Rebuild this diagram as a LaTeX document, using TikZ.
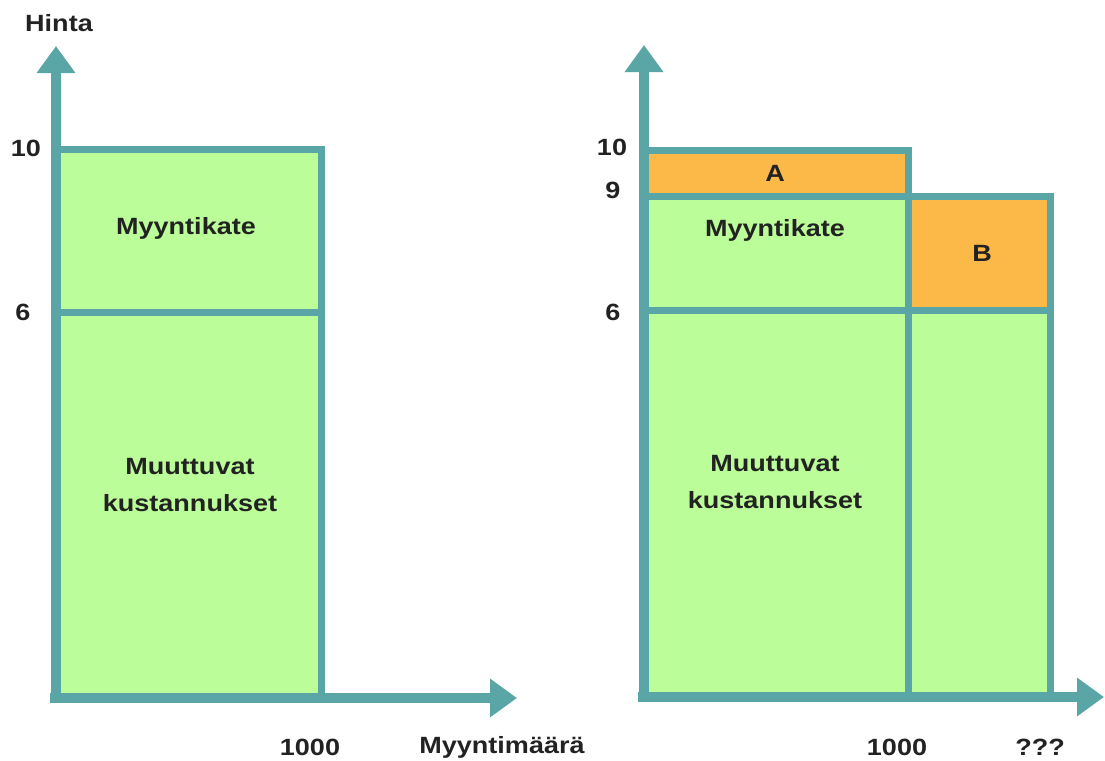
\documentclass[tikz,border=0pt]{standalone}
\usepackage{fontspec}
\setmainfont{Liberation Sans}[FakeStretch=1.15]
\usetikzlibrary{arrows.meta}
\definecolor{axiscol}{HTML}{5AA5A5}
\definecolor{greenfill}{HTML}{BBFD98}
\definecolor{orangefill}{HTML}{FDB947}
\definecolor{txt}{HTML}{222222}
\begin{document}
\begin{tikzpicture}[x=1pt,y=-1pt,
  axis/.style={draw=axiscol,line width=10pt,-{Triangle[length=27pt,width=37pt]}},
  border/.style={draw=axiscol,line width=7pt,line cap=rect},
  lbl/.style={text=txt,font=\fontsize{23.5}{28}\selectfont\bfseries,inner sep=0pt},
  area/.style={text=txt,font=\fontsize{23.5}{37}\selectfont\bfseries,align=center,inner sep=0pt}]
\useasboundingbox (0,0) rectangle (1105,760);
% ---------- left chart ----------
\fill[greenfill] (56,149) rectangle (321,698);
\draw[border] (56,149) -- (321,149) -- (321,698);
\draw[border] (56,312) -- (321,312);
\coordinate (L0) at (56,703);
\coordinate (Ltop) at (56,46);
\coordinate (Lx0) at (50,698);
\coordinate (Lright) at (517,698);
\draw[axis] (L0) -- (Ltop);
\draw[axis] (Lx0) -- (Lright);
\node[lbl] (hinta) at (59,23) {Hinta};
\node[lbl] (l10) at (26,148) {10};
\node[lbl] (l6) at (23,312) {6};
\node[lbl] (l1000) at (310,747) {1000};
\node[lbl] (lmm) at (502,747) {Myyntimäärä};
\node[area] (lmk) at (186,228) {Myyntikate};
\node[area] (lmu) at (190,485) {Muuttuvat\\kustannukset};
% ---------- right chart ----------
\fill[orangefill] (644,150) rectangle (908,196);
\fill[greenfill] (644,196) rectangle (908,697);
\fill[orangefill] (908,196) rectangle (1050,310);
\fill[greenfill] (908,310) rectangle (1050,697);
\draw[border] (644,150) -- (908,150) -- (908,697);
\draw[border] (644,196) -- (1050,196) -- (1050,697);
\draw[border] (644,310) -- (1050,310);
\coordinate (R0) at (644,702);
\coordinate (Rtop) at (644,45);
\coordinate (Rx0) at (638,697);
\coordinate (Rright) at (1104,697);
\draw[axis] (R0) -- (Rtop);
\draw[axis] (Rx0) -- (Rright);
\node[lbl] (r10) at (612,147) {10};
\node[lbl] (r9) at (613,190) {9};
\node[lbl] (r6) at (613,312) {6};
\node[lbl] (r1000) at (897,747) {1000};
\node[lbl] (rq) at (1040,747) {???};
\node[area] (ra) at (775,173) {A};
\node[area] (rb) at (982,253) {B};
\node[area] (rmk) at (775,230) {Myyntikate};
\node[area] (rmu) at (775,482) {Muuttuvat\\kustannukset};
\end{tikzpicture}
\end{document}
